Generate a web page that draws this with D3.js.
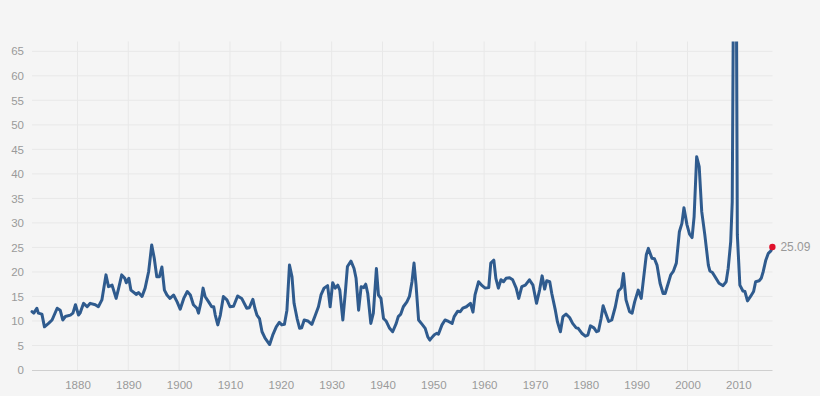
<!DOCTYPE html>
<html>
<head>
<meta charset="utf-8">
<script src="https://cdn.jsdelivr.net/npm/d3@7"></script>
<style>
  html, body { margin: 0; padding: 0; background: #f5f5f5; }
  svg { display: block; font-family: "Liberation Sans", Arial, sans-serif; }
</style>
</head>
<body>
<svg id="chart" width="820" height="396"></svg>
<script>
const years = [
  1871.05,1871.4,1872.0,1872.3,1873.0,1873.5,1874.3,1875.0,1876.0,1876.6,
  1877.1,1877.6,1878.6,1879.1,1879.6,1880.2,1880.5,1881.2,1881.9,1882.5,
  1883.5,1884.1,1884.8,1885.6,1886.1,1886.8,1887.6,1888.1,1888.7,1889.3,
  1889.6,1890.1,1890.5,1891.6,1892.0,1892.7,1893.3,1894.0,1894.6,1895.1,
  1895.6,1896.1,1896.6,1897.1,1897.6,1898.2,1898.9,1899.6,1900.2,1900.9,
  1901.6,1902.2,1902.8,1903.5,1903.8,1904.3,1904.7,1905.1,1905.8,1906.4,
  1906.8,1907.1,1907.6,1908.1,1908.7,1909.4,1910.0,1910.7,1911.5,1912.3,
  1913.3,1913.8,1914.5,1914.9,1915.3,1915.8,1916.3,1916.9,1917.8,1918.4,
  1919.1,1919.7,1920.2,1920.7,1921.2,1921.7,1922.2,1922.6,1923.2,1923.7,
  1924.1,1924.6,1925.3,1926.1,1926.8,1927.4,1927.9,1928.5,1929.2,1929.7,
  1930.2,1930.7,1931.2,1931.6,1932.2,1932.7,1933.1,1933.8,1934.4,1934.8,
  1935.3,1935.8,1936.3,1936.7,1937.1,1937.7,1938.2,1938.8,1939.2,1939.7,
  1940.2,1940.7,1941.4,1942.0,1942.7,1943.1,1943.6,1944.1,1944.8,1945.3,
  1945.8,1946.2,1946.6,1947.1,1947.8,1948.4,1948.9,1949.3,1949.7,1950.2,
  1950.7,1951.0,1951.7,1952.3,1953.0,1953.7,1954.1,1954.8,1955.3,1955.8,
  1956.5,1957.3,1957.8,1958.2,1958.9,1959.6,1960.2,1960.9,1961.3,1961.9,
  1962.3,1962.8,1963.3,1963.8,1964.3,1965.0,1965.6,1966.3,1966.8,1967.4,
  1968.1,1968.9,1969.6,1970.3,1970.9,1971.4,1971.9,1972.3,1972.9,1973.3,
  1974.0,1974.4,1975.0,1975.5,1976.1,1976.8,1977.4,1978.1,1978.5,1979.2,
  1979.9,1980.4,1980.9,1981.6,1982.1,1982.5,1983.0,1983.4,1983.8,1984.5,
  1985.1,1985.8,1986.4,1987.0,1987.4,1987.9,1988.6,1989.1,1989.6,1990.3,
  1990.9,1991.9,1992.3,1993.0,1993.5,1994.0,1994.6,1995.2,1995.6,1996.3,
  1996.7,1997.2,1997.8,1998.4,1998.9,1999.3,1999.9,2000.4,2000.9,2001.3,
  2001.8,2002.3,2002.8,2003.4,2004.1,2004.4,2004.9,2005.6,2006.2,2007.0,
  2007.6,2008.0,2008.5,2008.8,2009.0,2009.2,2009.4,2009.6,2009.8,2010.3,
  2010.9,2011.3,2011.8,2012.4,2013.0,2013.4,2014.1,2014.5,2014.9,2015.4,
  2015.9,2016.4,2016.7
];
const peRatio = [
  11.9,11.6,12.6,11.6,11.4,8.8,9.5,10.2,12.6,12.2,
  10.2,10.9,11.2,11.6,13.3,11.2,11.6,13.6,12.9,13.6,
  13.3,12.9,14.3,19.4,17.0,17.3,14.6,16.7,19.4,18.7,
  17.8,18.7,16.3,15.4,15.8,15.0,16.7,20.1,25.5,22.8,
  19.0,19.0,21.0,16.3,15.3,14.6,15.3,13.9,12.4,14.6,
  16.0,15.3,13.3,12.6,11.6,13.9,16.7,15.0,13.9,12.9,
  12.9,11.2,9.2,11.2,15.0,14.3,12.9,13.0,15.1,14.6,
  12.6,12.7,14.4,12.6,11.2,10.5,7.8,6.5,5.2,7.1,
  8.8,9.7,9.2,9.3,12.2,21.4,19.0,13.6,10.5,8.5,
  8.6,10.2,10.0,9.3,11.2,12.9,15.3,16.7,17.2,12.9,
  17.8,16.7,17.3,16.3,10.2,16.0,21.1,22.2,20.7,18.7,
  12.2,17.0,16.8,17.5,15.6,9.5,11.6,20.7,15.3,14.6,
  10.5,10.0,8.5,7.8,9.5,10.9,11.4,12.9,13.9,15.0,
  18.0,21.8,17.3,10.2,9.3,8.5,6.8,6.1,6.6,7.2,
  7.5,7.3,9.2,10.2,9.9,9.5,10.9,12.0,11.9,12.6,
  12.9,13.6,11.8,15.3,18.0,17.2,16.7,16.8,21.8,22.4,
  18.7,16.7,18.4,18.0,18.7,18.8,18.4,16.7,14.6,17.0,
  17.3,18.4,17.3,13.6,16.3,19.2,16.5,18.2,18.0,15.6,
  12.2,9.9,7.8,10.9,11.4,10.7,9.5,8.6,8.5,7.5,
  6.9,7.1,9.0,8.6,7.8,8.0,10.5,13.1,11.9,9.9,
  10.2,12.9,16.1,16.8,19.7,14.3,11.9,11.6,13.9,16.3,
  14.6,23.5,24.8,22.8,22.7,21.4,17.7,15.6,15.6,18.0,
  19.4,20.1,21.8,28.2,29.9,33.1,29.6,27.7,27.0,31.3,
  43.5,41.5,32.3,27.6,21.4,20.2,19.9,18.7,17.7,17.2,
  18.0,20.7,26.2,34.3,70.0,110.0,123.7,80.0,27.6,17.3,
  16.1,16.0,14.1,15.0,16.0,18.0,18.2,18.7,20.1,22.4,
  23.8,24.3,25.09
];
const yTicks = [0,5,10,15,20,25,30,35,40,45,50,55,60,65];
const xTicks = [1880,1890,1900,1910,1920,1930,1940,1950,1960,1970,1980,1990,2000,2010];
const lastLabel = "25.09";

const svg = d3.select("#chart");
const W = 820, H = 396;
const plotL = 32, plotR = 772.5, plotT = 41.5, plotB = 370;

svg.append("rect").attr("width", W).attr("height", H).attr("fill", "#f5f5f5");

const x = d3.scaleLinear().domain([1871.05, 2016.72]).range([plotL, plotR]);
const y = d3.scaleLinear().domain([0, 67]).range([plotB, plotT]);

// vertical grid
svg.append("g").selectAll("line").data(xTicks).join("line")
  .attr("x1", d => x(d)).attr("x2", d => x(d))
  .attr("y1", plotT).attr("y2", plotB)
  .attr("stroke", "#e8e8e8").attr("stroke-width", 1);

// horizontal grid
svg.append("g").selectAll("line").data(yTicks.filter(d => d > 0)).join("line")
  .attr("x1", plotL).attr("x2", plotR)
  .attr("y1", d => y(d)).attr("y2", d => y(d))
  .attr("stroke", "#e8e8e8").attr("stroke-width", 1);

// axes
const xAxis = d3.axisBottom(x).tickValues(xTicks).tickFormat(d3.format("d")).tickSize(0).tickPadding(8);
const gx = svg.append("g").attr("transform", `translate(0,${plotB})`).call(xAxis);
gx.select(".domain").attr("stroke", "#cfcfcf").attr("d", `M${plotL},0.5H${plotR}`);
gx.selectAll("text").attr("fill", "#9a9a9a").attr("font-size", 11.5).attr("dy", "0.95em");

const yAxis = d3.axisLeft(y).tickValues(yTicks).tickSize(0).tickPadding(8);
const gy = svg.append("g").attr("transform", `translate(${plotL},0)`).call(yAxis);
gy.select(".domain").remove();
gy.selectAll("text").attr("fill", "#9a9a9a").attr("font-size", 11.5);

// clip
svg.append("clipPath").attr("id", "clip")
  .append("rect").attr("x", plotL - 5).attr("y", plotT).attr("width", plotR - plotL + 10).attr("height", plotB - plotT);

const data = years.map((yr, i) => ({ yr, v: peRatio[i] }));
const line = d3.line().x(d => x(d.yr)).y(d => y(d.v));

svg.append("path").datum(data)
  .attr("clip-path", "url(#clip)")
  .attr("d", line)
  .attr("fill", "none")
  .attr("stroke", "#2f5b8e")
  .attr("stroke-width", 3)
  .attr("stroke-linejoin", "round")
  .attr("stroke-linecap", "round");

const last = data[data.length - 1];
svg.append("circle").attr("cx", x(last.yr)).attr("cy", y(last.v)).attr("r", 3.2).attr("fill", "#e0112b");
svg.append("text").attr("x", x(last.yr) + 8).attr("y", y(last.v) + 4)
  .attr("fill", "#999").attr("font-size", 12).text(lastLabel);
</script>
</body>
</html>
